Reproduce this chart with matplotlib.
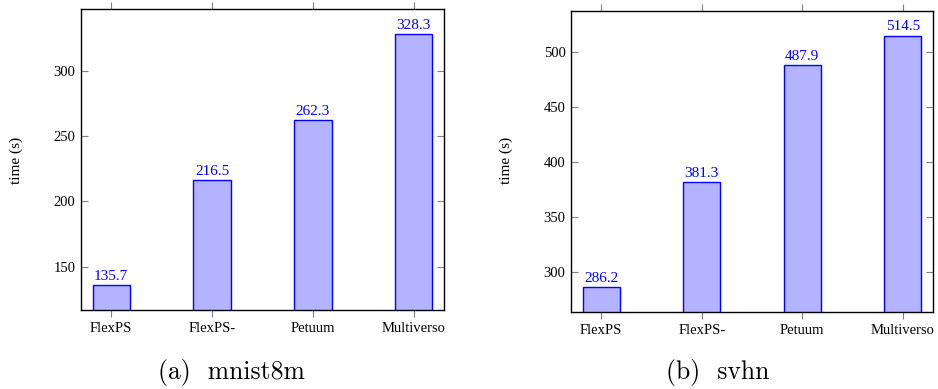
import matplotlib
matplotlib.use("Agg")
import matplotlib.pyplot as plt
import numpy as np

categories = ["FlexPS", "FlexPS-", "Petuum", "Multiverso"]
mnist_times = [135.7, 216.5, 262.3, 328.3]
svhn_times = [286.2, 381.3, 487.9, 514.5]
mnist_yticks = [150, 200, 250, 300]
svhn_yticks = [300, 350, 400, 450, 500]

W, H = 938, 389
fig = plt.figure(figsize=(W / 100, H / 100), dpi=100)
serif = ["Liberation Serif", "DejaVu Serif"]

panels = [
    (mnist_times, mnist_yticks, (116.8, 347.3), (81, 9.3, 444, 310), "(a)  mnist8m", 231, 16),
    (svhn_times, svhn_yticks, (263.7, 536.9), (571, 11, 933, 312), "(b)  svhn", 718, 506),
]

for vals, yt, ylim, (x0, y0, x1, y1), cap, capx, ylx in panels:
    ax = fig.add_axes([x0 / W, 1 - y1 / H, (x1 - x0) / W, (y1 - y0) / H])
    x = np.arange(len(categories))
    ax.bar(x, vals, width=0.37, color=(0.7, 0.7, 1.0), edgecolor="blue", linewidth=1.0, zorder=2)
    for xi, v in zip(x, vals):
        ax.text(xi, v + (ylim[1] - ylim[0]) * 0.008, f"{v:.1f}", ha="center", va="bottom",
                color="blue", fontsize=11, family=serif)
    ax.set_xlim(-0.3, 3.3)
    ax.set_ylim(*ylim)
    ax.set_xticks(x)
    ax.set_xticklabels(categories, family=serif, fontsize=10.5)
    ax.set_yticks(yt)
    ax.set_yticklabels([str(t) for t in yt], family=serif, fontsize=10.5)
    ax.tick_params(axis="x", direction="out", length=5, color="0.5", width=0.8,
                   top=True, bottom=True, pad=4)
    ax.tick_params(axis="y", direction="in", length=5, color="0.5", width=0.8,
                   left=True, right=True, pad=4)
    for s in ax.spines.values():
        s.set_linewidth(1.0)
        s.set_color("black")
    fig.text(ylx / W, 1 - 160 / H, "time (s)", rotation=90, ha="center", va="center",
             family=serif, fontsize=11)
    fig.text(capx / W, 1 - 372 / H, cap, ha="center", va="center", family=["cmr10", "DejaVu Serif"],
             fontsize=18.5)

fig.savefig("out.png", dpi=100)
